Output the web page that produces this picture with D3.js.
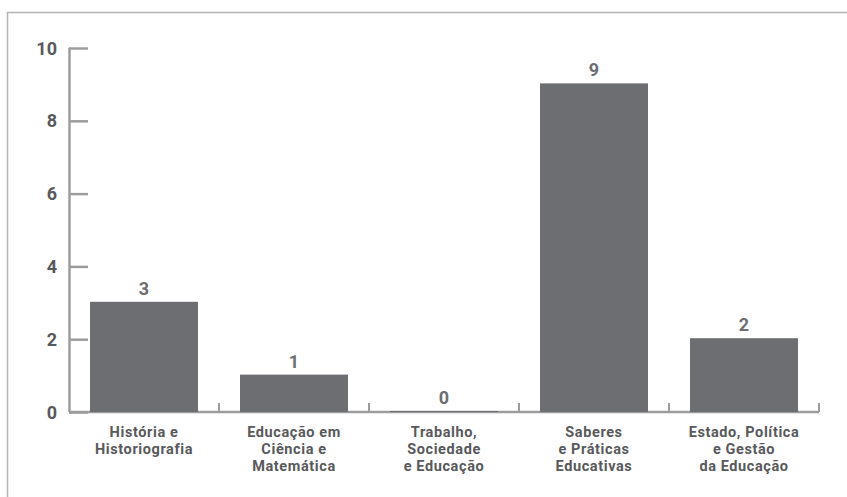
<!DOCTYPE html>
<html>
<head>
<meta charset="utf-8">
<script src="https://cdn.jsdelivr.net/npm/d3@7"></script>
<style>
  html, body { margin: 0; padding: 0; background: #fff; }
  svg { display: block; }
  text { font-family: Roboto, "DejaVu Sans", sans-serif; font-weight: 700; }
</style>
</head>
<body>
<svg id="chart" width="847" height="497"></svg>
<script>
// Linhas de pesquisa e número de trabalhos
const categories = [
  ["História e", "Historiografia"],
  ["Educação em", "Ciência e", "Matemática"],
  ["Trabalho,", "Sociedade", "e Educação"],
  ["Saberes", "e Práticas", "Educativas"],
  ["Estado, Política", "e Gestão", "da Educação"]
];
const values = [3, 1, 0, 9, 2];
const yTicks = [0, 2, 4, 6, 8, 10];

const svg = d3.select("#chart");
const axisColor = "#9c9c9e";
const barColor = "#6d6e71";
const textColor = "#58595b";

// outer frame: top rule and left rule
svg.append("line").attr("x1", 7).attr("x2", 847).attr("y1", 12.5).attr("y2", 12.5)
  .attr("stroke", "#b3b3b3").attr("stroke-width", 1.5);
svg.append("line").attr("x1", 7.5).attr("x2", 7.5).attr("y1", 12).attr("y2", 497)
  .attr("stroke", "#b3b3b3").attr("stroke-width", 1.5);

const plotLeft = 69, plotRight = 819, plotTop = 48, plotBottom = 412;
const keys = categories.map((d, i) => i);

const x = d3.scaleBand().domain(keys).range([plotLeft, plotRight]).paddingInner(0.28).paddingOuter(0.14);
const y = d3.scaleLinear().domain([0, 10]).range([plotBottom, plotTop]);

// y axis with inward ticks
const yAxis = d3.axisRight(y).tickValues(yTicks).tickSize(19).tickFormat("");
const gy = svg.append("g").attr("transform", `translate(${plotLeft},0)`).call(yAxis);
gy.select(".domain").attr("stroke", axisColor).attr("stroke-width", 2.5).attr("d", `M0.5,${plotTop}V${plotBottom}`);
gy.selectAll(".tick line").attr("stroke", axisColor).attr("stroke-width", 2.5);

svg.append("g").selectAll("text").data(yTicks).join("text")
  .attr("x", 57).attr("y", d => y(d) + 6.5)
  .attr("text-anchor", "end").attr("font-size", 18).attr("fill", textColor)
  .text(d => d);

// x axis: baseline with small upward ticks between categories
const step = x.step();
const boundaries = keys.map(i => x(i) + x.bandwidth() + (step - x.bandwidth()) / 2);
svg.append("line").attr("x1", plotLeft).attr("x2", plotRight).attr("y1", plotBottom).attr("y2", plotBottom)
  .attr("stroke", axisColor).attr("stroke-width", 2.5);
svg.append("g").selectAll("line").data(boundaries).join("line")
  .attr("x1", d => d).attr("x2", d => d).attr("y1", plotBottom).attr("y2", plotBottom - 9)
  .attr("stroke", axisColor).attr("stroke-width", 2);

// bars
svg.append("g").selectAll("rect").data(values).join("rect")
  .attr("x", (d, i) => x(i)).attr("width", x.bandwidth())
  .attr("y", d => y(d) - 1).attr("height", d => y(0) - y(d) + 1)
  .attr("fill", barColor);

// value labels
svg.append("g").selectAll("text").data(values).join("text")
  .attr("x", (d, i) => x(i) + x.bandwidth() / 2)
  .attr("y", d => y(d) - 8)
  .attr("text-anchor", "middle").attr("font-size", 18).attr("fill", "#6d6e71")
  .text(d => d);

// category labels
const lab = svg.append("g").selectAll("text").data(categories).join("text")
  .attr("x", (d, i) => x(i) + x.bandwidth() / 2)
  .attr("y", 437)
  .attr("text-anchor", "middle").attr("font-size", 14.5)
  .attr("letter-spacing", 0.6).attr("fill", textColor);
lab.selectAll("tspan").data(d => d).join("tspan")
  .attr("x", function () { return this.parentNode.getAttribute("x"); })
  .attr("dy", (d, j) => j === 0 ? 0 : 17)
  .text(d => d);
</script>
</body>
</html>
